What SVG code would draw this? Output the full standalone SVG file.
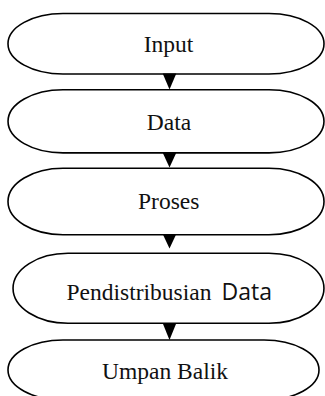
<svg xmlns="http://www.w3.org/2000/svg" width="325" height="396" viewBox="0 0 325 396">
<style>
.term{fill:#fff;stroke:#000;stroke-width:1.6}
.lbl{font-family:"Liberation Serif","Times New Roman",serif;font-size:23.5px;fill:#111;text-anchor:middle}
.sans{font-family:"Open Sans","Noto Sans",sans-serif;font-size:23px;fill:#111}
.arrow{fill:#000;stroke:none}
</style>
<rect width="325" height="396" fill="#fff"/>
<g id="node-input">
<path class="term" d="M63,13.5 H269 A55,30.25 0 0 1 269,74 H63 A55,30.25 0 0 1 63,13.5 Z"/>
<text class="lbl" x="168.5" y="51.7">Input</text>
</g>
<g id="node-data">
<path class="term" d="M63,89.7 H269 A55,31.6 0 0 1 269,152.9 H63 A55,31.6 0 0 1 63,89.7 Z"/>
<text class="lbl" x="169" y="130">Data</text>
</g>
<g id="node-proses">
<path class="term" d="M63,168.3 H269 A55,33.2 0 0 1 269,234.7 H63 A55,33.2 0 0 1 63,168.3 Z"/>
<text class="lbl" x="168.7" y="209">Proses</text>
</g>
<g id="node-distribusi">
<path class="term" d="M68,253.3 H269 A55,35 0 0 1 269,323.3 H68 A55,35 0 0 1 68,253.3 Z"/>
<text class="lbl" x="139" y="300">Pendistribusian</text>
<text class="sans" x="221.5" y="300">Data</text>
</g>
<g id="node-umpan">
<path class="term" d="M63,340 H264 A55,30 0 0 1 264,400 H63 A55,30 0 0 1 63,340 Z"/>
<text class="lbl" x="165" y="379">Umpan Balik</text>
</g>
<g id="connectors">
<polygon class="arrow" points="162.7,73.5 176.3,73.5 169.5,89.5"/>
<polygon class="arrow" points="162.7,152.7 176.3,152.7 169.5,167.5"/>
<polygon class="arrow" points="162.7,234 176.3,234 169.5,248.5"/>
<polygon class="arrow" points="162.7,323.3 176.3,323.3 169.5,340"/>
</g>
</svg>
